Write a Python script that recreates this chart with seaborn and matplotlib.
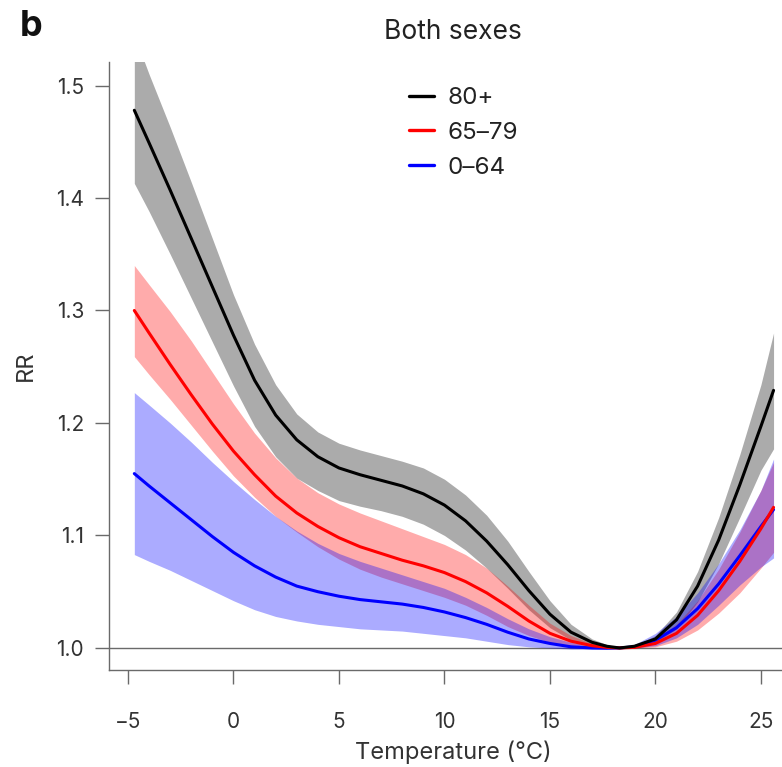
import matplotlib
matplotlib.use("Agg")
import matplotlib.pyplot as plt
from matplotlib.lines import Line2D
import seaborn as sns

# ---- data ----
temps = [-4.7, -4, -3, -2, -1, 0, 1, 2, 3, 4, 5, 6, 7, 8, 9, 10, 11, 12, 13, 14,
         15, 16, 17, 17.7, 18.3, 19, 20, 21, 22, 23, 24, 25, 25.6]

rr_80 = [1.478, 1.449, 1.407, 1.364, 1.321, 1.278, 1.238, 1.207, 1.185, 1.170,
         1.160, 1.154, 1.149, 1.144, 1.137, 1.127, 1.113, 1.095, 1.074, 1.051,
         1.030, 1.014, 1.005, 1.0015, 1.000, 1.0015, 1.008, 1.025, 1.055, 1.096,
         1.145, 1.197, 1.229]
hi_80 = [1.545, 1.510, 1.463, 1.414, 1.364, 1.314, 1.270, 1.234, 1.208, 1.192,
         1.182, 1.176, 1.171, 1.166, 1.160, 1.150, 1.136, 1.118, 1.095, 1.068,
         1.042, 1.021, 1.008, 1.003, 1.000, 1.002, 1.011, 1.032, 1.068, 1.116,
         1.172, 1.234, 1.280]
lo_80 = [1.413, 1.388, 1.350, 1.311, 1.272, 1.233, 1.197, 1.170, 1.151, 1.140,
         1.131, 1.126, 1.122, 1.117, 1.110, 1.100, 1.087, 1.071, 1.053, 1.034,
         1.018, 1.007, 1.002, 1.000, 1.000, 1.001, 1.005, 1.017, 1.041, 1.075,
         1.116, 1.158, 1.177]

rr_65 = [1.300, 1.280, 1.252, 1.225, 1.199, 1.175, 1.154, 1.135, 1.120, 1.108,
         1.098, 1.090, 1.084, 1.078, 1.073, 1.067, 1.059, 1.049, 1.037, 1.024,
         1.013, 1.006, 1.002, 1.0005, 1.000, 1.0005, 1.004, 1.013, 1.029, 1.051,
         1.077, 1.106, 1.125]
hi_65 = [1.340, 1.323, 1.299, 1.273, 1.245, 1.217, 1.191, 1.169, 1.151, 1.138,
         1.128, 1.120, 1.113, 1.106, 1.099, 1.092, 1.083, 1.071, 1.055, 1.038,
         1.022, 1.011, 1.004, 1.001, 1.000, 1.001, 1.008, 1.021, 1.042, 1.070,
         1.103, 1.140, 1.165]
lo_65 = [1.259, 1.243, 1.221, 1.198, 1.175, 1.153, 1.134, 1.117, 1.103, 1.090,
         1.079, 1.070, 1.063, 1.057, 1.051, 1.045, 1.038, 1.029, 1.019, 1.011,
         1.005, 1.002, 1.000, 1.000, 1.000, 1.000, 1.001, 1.006, 1.016, 1.031,
         1.049, 1.071, 1.085]

rr_0 = [1.155, 1.144, 1.129, 1.114, 1.099, 1.085, 1.073, 1.063, 1.055, 1.050,
        1.046, 1.043, 1.041, 1.039, 1.036, 1.032, 1.027, 1.021, 1.014, 1.008,
        1.004, 1.001, 1.000, 0.9998, 1.000, 1.001, 1.007, 1.018, 1.035, 1.057,
        1.082, 1.108, 1.123]
hi_0 = [1.227, 1.216, 1.200, 1.183, 1.165, 1.148, 1.132, 1.117, 1.104, 1.093,
        1.084, 1.077, 1.071, 1.065, 1.059, 1.053, 1.045, 1.036, 1.026, 1.017,
        1.010, 1.005, 1.002, 1.0005, 1.000, 1.003, 1.013, 1.028, 1.049, 1.075,
        1.105, 1.140, 1.168]
lo_0 = [1.083, 1.077, 1.069, 1.060, 1.051, 1.042, 1.034, 1.028, 1.024, 1.021,
        1.019, 1.017, 1.016, 1.015, 1.013, 1.011, 1.009, 1.006, 1.003, 1.001,
        1.000, 0.999, 0.999, 0.999, 1.000, 1.000, 1.002, 1.009, 1.021, 1.038,
        1.056, 1.072, 1.080]

labels = ["80+", "65\u201379", "0\u201364"]
colors = ["#000000", "#ff0000", "#0000ff"]
x_ticks = [-5, 0, 5, 10, 15, 20, 25]
x_tick_labels = ["\u22125", "0", "5", "10", "15", "20", "25"]
y_ticks = [1.0, 1.1, 1.2, 1.3, 1.4, 1.5]

# ---- style ----
sns.set_style("ticks")
plt.rcParams['font.family'] = ['Inter', 'DejaVu Sans']

W, H = 782, 767
fig = plt.figure(figsize=(W / 100, H / 100), dpi=100)
ax = fig.add_axes([109 / W, 97 / H, 1 - 109 / W, 608 / H])

ax.axhline(1.0, color="#6a6a6a", lw=1.0, zorder=1)

series = [(rr_80, lo_80, hi_80), (rr_65, lo_65, hi_65), (rr_0, lo_0, hi_0)]
for (rr, lo, hi), c in zip(series, colors):
    ax.fill_between(temps, lo, hi, color=c, alpha=0.33, lw=0, zorder=2)

for idx in [2, 1, 0]:
    rr = series[idx][0]
    sns.lineplot(x=temps, y=rr, color=colors[idx], lw=2.2, ax=ax,
                 legend=False, zorder=3 + (2 - idx), sort=True)

ax.set_xlim(-5.90, 26.0)
ax.set_ylim(0.9804, 1.5209)
ax.set_xticks(x_ticks)
ax.set_xticklabels(x_tick_labels)
ax.set_yticks(y_ticks)
ax.set_yticklabels([f"{v:.1f}" for v in y_ticks])

for s in ["top", "right"]:
    ax.spines[s].set_visible(False)
for s in ["left", "bottom"]:
    ax.spines[s].set_color("#6a6a6a")
    ax.spines[s].set_linewidth(1.0)

ax.tick_params(axis="both", direction="out", length=10, width=1.0,
               color="#6a6a6a", labelsize=15, labelcolor="#333333")
ax.tick_params(axis="x", pad=20)
ax.tick_params(axis="y", pad=8)

ax.set_xlabel("Temperature (\u00b0C)", fontsize=17, color="#333333")
ax.xaxis.set_label_coords((453 - 109) / 673, -(752 - 670) / 608)
ax.xaxis.label.set_va("center")
ax.set_ylabel("RR", fontsize=17, color="#333333")
ax.yaxis.set_label_coords((26 - 109) / 673, 0.5)
ax.yaxis.label.set_va("center")

handles = [Line2D([], [], color=c, lw=2.4) for c in colors]
ax.legend(handles, labels, loc="upper left",
          bbox_to_anchor=(409 / W, 1 - 87 / H), bbox_transform=fig.transFigure,
          frameon=False, fontsize=17.4, handlelength=1.03, handletextpad=0.58,
          labelspacing=0.53, borderpad=0, borderaxespad=0,
          labelcolor="#222222")

fig.text(453 / W, 1 - 32 / H, "Both sexes", ha="center", va="center",
         fontsize=19, color="#222222")
fig.text(20 / W, 1 - 27 / H, "b", ha="left", va="center",
         fontsize=26, fontweight="bold", color="#111111")

fig.savefig("out.png", dpi=100)
